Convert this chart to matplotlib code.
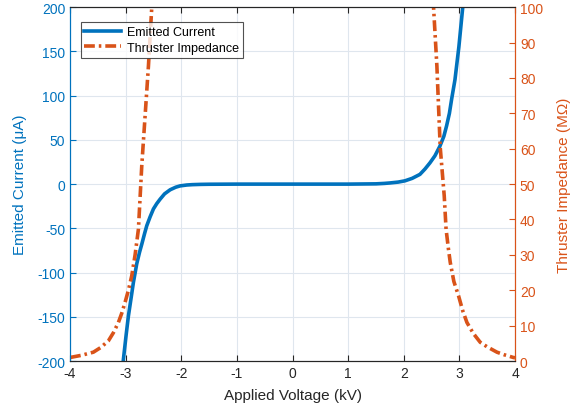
import matplotlib
matplotlib.use("Agg")
import matplotlib.pyplot as plt
import numpy as np

plt.rcParams['font.family'] = ['Liberation Sans', 'DejaVu Sans']
plt.rcParams['axes.unicode_minus'] = False

# Emitted current (uA) vs applied voltage (kV)
cur_v = [-3.09, -3.04, -2.99, -2.95, -2.90, -2.86, -2.80, -2.75, -2.71, -2.66, -2.62, -2.56, -2.50, -2.44, -2.38, -2.30, -2.20, -2.10, -2.02, -1.90,
         -1.80, -1.65, -1.5, -1.0, 0.0, 1.0, 1.5, 1.65, 1.75, 1.90, 2.02, 2.15, 2.29, 2.38, 2.47, 2.56, 2.65,
         2.72, 2.77, 2.82, 2.86, 2.92, 2.99, 3.06, 3.10]
cur_i = [-235, -198, -170, -149, -128, -111, -90, -77, -68, -56, -47, -37, -28, -22, -17, -11, -6.4, -3.5, -2.0, -1.0,
         -0.6, -0.3, -0.15, 0, 0, 0, 0.3, 0.8, 1.3, 2.3, 3.7, 6.5, 11, 17, 24, 32, 43,
         54, 66, 80, 96, 118, 155, 200, 230]

# Thruster impedance (MOhm)
imp_neg_v = [-4.00, -3.80, -3.58, -3.45, -3.31, -3.22, -3.13, -3.07, -3.01, -2.95, -2.89, -2.83, -2.77, -2.71, -2.65, -2.59, -2.53, -2.50]
imp_neg_z = [1.0, 1.6, 2.5, 3.8, 5.7, 8.0, 10.9, 13.5, 16.6, 20.0, 24.1, 30.0, 37.3, 55.2, 69.3, 83.4, 100, 115]
imp_pos_v = [2.50, 2.535, 2.595, 2.655, 2.727, 2.76, 2.80, 2.835, 2.90, 2.985, 3.06, 3.135, 3.25, 3.374, 3.50, 3.675, 3.80, 3.97, 4.00]
imp_pos_z = [115, 100, 83.4, 60.4, 46.7, 37.3, 32.0, 27.9, 22.5, 18.4, 14.2, 10.9, 7.8, 5.3, 4.0, 2.5, 1.8, 1.0, 0.9]

blue = '#0072BD'
orange = '#D95319'
dark = '#262626'

fig = plt.figure(figsize=(5.71, 4.10), dpi=100)
ax = fig.add_axes([0.1226, 0.117, 0.7794, 0.863])
ax2 = ax.twinx()

lw = 2.6
l1, = ax.plot(cur_v, cur_i, color=blue, lw=lw, label='Emitted Current')
dash = (3.0, 1.1, 0.7, 1.1)
l2, = ax2.plot(imp_neg_v, imp_neg_z, color=orange, lw=lw, ls=(0, dash), label='Thruster Impedance')
ax2.plot(imp_pos_v, imp_pos_z, color=orange, lw=lw, ls=(0, dash))

ax.set_xlim(-4, 4)
ax.set_ylim(-200, 200)
ax2.set_ylim(0, 100)
ax.set_xticks(np.arange(-4, 5, 1))
ax.set_yticks(np.arange(-200, 201, 50))
ax2.set_yticks(np.arange(0, 101, 10))

ax.grid(True, color='#dfe6ee', lw=0.8)
ax.set_axisbelow(True)

fs = 10
ax.tick_params(axis='x', direction='in', top=True, colors=dark, labelsize=fs, length=4)
ax.tick_params(axis='y', direction='in', colors=blue, labelsize=fs, length=4)
ax2.tick_params(axis='y', direction='in', colors=orange, labelsize=fs, length=4)
for a in (ax, ax2):
    a.spines['top'].set_color(dark)
    a.spines['bottom'].set_color(dark)
    a.spines['left'].set_color(blue)
    a.spines['right'].set_color(orange)

ax.set_xlabel('Applied Voltage (kV)', fontsize=11, color=dark, labelpad=6)
ax.set_ylabel('Emitted Current (μA)', fontsize=11, color=blue, labelpad=7)
ax2.set_ylabel('Thruster Impedance (MΩ)', fontsize=11, color=orange, labelpad=10)

leg = ax2.legend([l1, l2], ['Emitted Current', 'Thruster Impedance'], loc='upper left',
                 bbox_to_anchor=(0.01, 0.975), fontsize=9, frameon=True, fancybox=False,
                 edgecolor=dark, handlelength=2.9, borderpad=0.3, labelspacing=0.3,
                 handletextpad=0.5)
leg.get_frame().set_linewidth(0.8)

fig.savefig('out.png', dpi=100)
